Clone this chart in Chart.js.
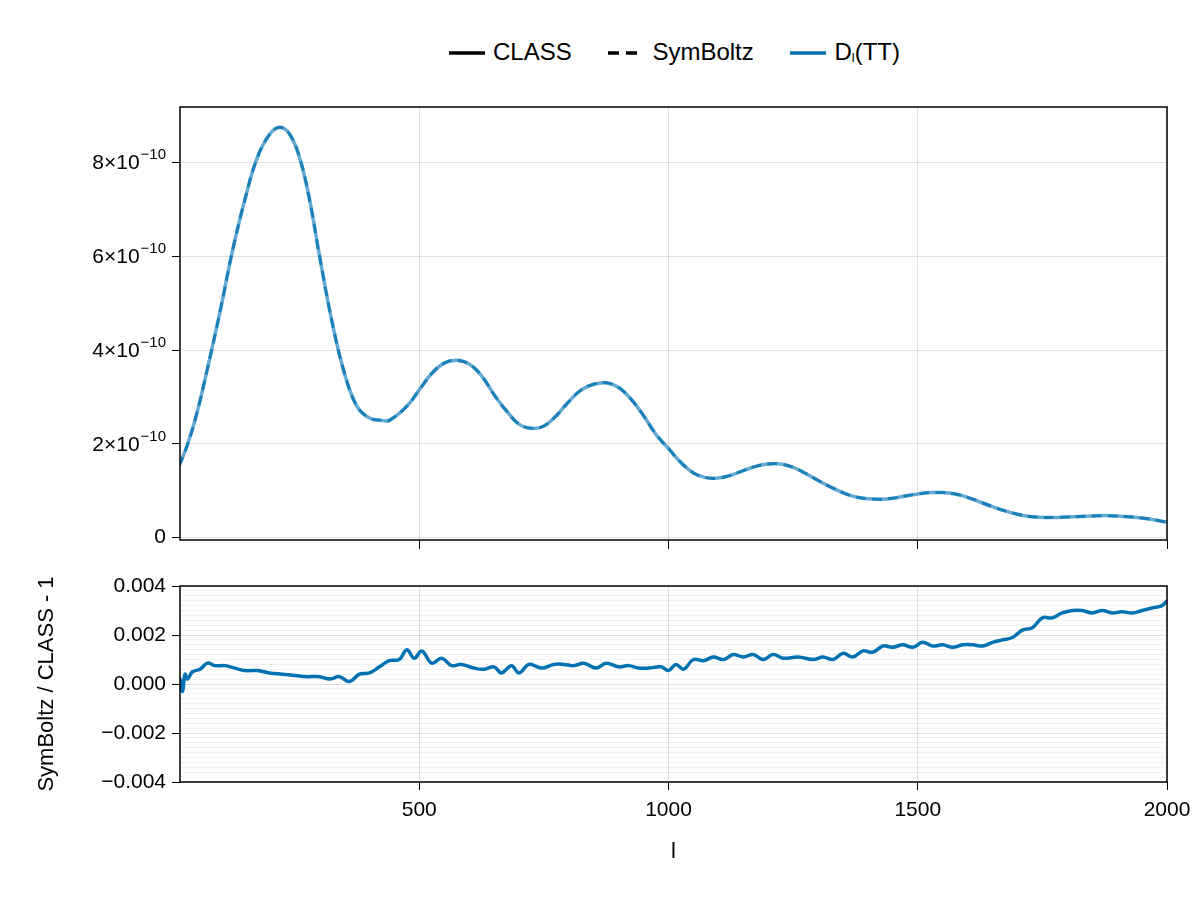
<!DOCTYPE html>
<html><head><meta charset="utf-8">
<script src="https://cdn.jsdelivr.net/npm/chart.js@4"></script>
<style>
body{margin:0;width:1200px;height:900px;background:#fff;font-family:"Liberation Sans",Arial,sans-serif;overflow:hidden}
#c1{position:absolute;left:0;top:0}
#c2{position:absolute;left:0;top:560px}
#leg{position:absolute;top:36px;left:180px;width:987px;text-align:center;font-size:24px;color:#000}
#leg span{display:inline-block;margin:0 14px;vertical-align:middle}
#leg svg{vertical-align:middle;margin-right:6px}
#leg sub{font-size:13px;vertical-align:-2px}
</style></head><body>
<div id="leg">
<span><svg width="40" height="10"><line x1="2" y1="5" x2="38" y2="5" stroke="#000" stroke-width="3.5"/></svg>CLASS</span>
<span><svg width="40" height="10"><line x1="2" y1="5" x2="38" y2="5" stroke="#000" stroke-width="3.5" stroke-dasharray="11,7"/></svg>SymBoltz</span>
<span><svg width="40" height="10"><line x1="2" y1="5" x2="38" y2="5" stroke="#0072B2" stroke-width="3.5"/></svg>D<sub>l</sub>(TT)</span>
</div>
<canvas id="c1" width="1200" height="560"></canvas>
<canvas id="c2" width="1200" height="340"></canvas>
<script>
const ell = [2,25,50,75,100,125,150,175,200,220,240,260,280,300,325,350,375,400,425,440,475,500,525,550,575,600,625,650,675,700,725,750,775,800,825,850,875,900,925,950,975,1000,1025,1050,1075,1100,1125,1150,1175,1200,1225,1250,1275,1300,1325,1350,1375,1400,1425,1450,1475,1500,1525,1550,1575,1600,1625,1650,1675,1700,1725,1750,1775,1800,1850,1875,1900,1950,2000];
const dlTT = [1.22,1.7,2.5,3.6,4.8,6.1,7.2,8.1,8.6,8.75,8.6,8.1,7.2,6.0,4.6,3.5,2.8,2.55,2.5,2.5,2.8,3.15,3.5,3.72,3.78,3.7,3.45,3.05,2.7,2.42,2.33,2.38,2.6,2.9,3.15,3.27,3.3,3.2,2.95,2.6,2.2,1.9,1.6,1.38,1.28,1.27,1.33,1.43,1.52,1.57,1.57,1.5,1.37,1.22,1.08,0.96,0.87,0.83,0.82,0.84,0.89,0.93,0.96,0.96,0.93,0.86,0.76,0.66,0.57,0.5,0.45,0.43,0.43,0.44,0.46,0.47,0.46,0.42,0.33].map(v=>v*1e-10);
const ellRes = [2,10,15,20,25,30,35,45,60,75,90,110,130,150,175,200,225,250,275,300,320,340,360,380,400,420,440,460,475,490,505,525,545,565,585,610,630,650,665,685,700,720,745,770,790,810,830,855,875,900,920,940,960,985,1000,1015,1030,1050,1070,1090,1110,1130,1150,1170,1190,1210,1230,1260,1290,1310,1330,1350,1370,1390,1410,1430,1450,1470,1490,1510,1530,1550,1570,1590,1610,1630,1650,1670,1690,1710,1730,1750,1770,1790,1810,1830,1850,1870,1890,1910,1930,1950,1970,1990,2000];
const resid = [0,0.1,-0.1,0.2,-0.3,0.4,0.2,0.5,0.6,0.85,0.75,0.75,0.65,0.55,0.55,0.45,0.4,0.35,0.3,0.3,0.2,0.3,0.1,0.4,0.45,0.7,0.95,1.0,1.4,1.05,1.35,0.85,1.05,0.75,0.8,0.65,0.6,0.7,0.45,0.75,0.45,0.8,0.65,0.8,0.8,0.75,0.85,0.65,0.85,0.7,0.75,0.65,0.65,0.7,0.55,0.8,0.6,1.0,0.95,1.1,1.0,1.2,1.1,1.2,1.0,1.2,1.05,1.1,1.0,1.1,1.0,1.25,1.1,1.35,1.3,1.55,1.5,1.6,1.5,1.7,1.55,1.6,1.5,1.6,1.6,1.55,1.7,1.8,1.9,2.2,2.3,2.7,2.7,2.9,3.0,3.0,2.9,3.0,2.9,2.95,2.9,3.0,3.1,3.2,3.4].map(v=>v*1e-3);
const xTicks = [500,1000,1500,2000];
const yTopMantissas = [0,2,4,6,8];

Chart.defaults.font.family = '"Liberation Sans", Arial, sans-serif';
Chart.defaults.color = '#000';
Chart.defaults.animation = false;

const frame = {id:'frame', afterDraw(c){const a=c.chartArea,x=c.ctx;x.save();x.strokeStyle='#000';x.lineWidth=1.5;x.strokeRect(a.left,a.top,a.right-a.left,a.bottom-a.top);x.restore();}};
const sciLabels = {id:'sci', afterDraw(c){
  const s=c.scales.y,x=c.ctx;x.save();x.fillStyle='#000';x.textBaseline='middle';
  yTopMantissas.forEach(m=>{
    const py=s.getPixelForValue(m*1e-10), right=s.right-14;
    if(m===0){x.font='21px "Liberation Sans"';x.textAlign='right';x.fillText('0',right,py);return;}
    x.font='15px "Liberation Sans"';x.textAlign='right';x.fillText('−10',right,py-7);
    const w=x.measureText('−10').width;
    x.font='21px "Liberation Sans"';x.fillText(m+'×10',right-w-1,py+1);
  });x.restore();}};
const grey = 'rgba(0,0,0,0.12)';

new Chart(document.getElementById('c1'), {
  type:'line',
  data:{datasets:[
    {data:ell.map((l,i)=>({x:l,y:dlTT[i]})),borderColor:'rgba(0,114,178,0.6)',borderWidth:3.5,pointRadius:0,tension:0.4},
    {data:ell.map((l,i)=>({x:l,y:dlTT[i]})),borderColor:'rgba(0,114,178,0.75)',borderWidth:3,borderDash:[10,6],pointRadius:0,tension:0.4}
  ]},
  options:{responsive:false,plugins:{legend:{display:false},tooltip:{enabled:false}},
    layout:{padding:{top:107,right:33,left:0,bottom:0}},
    scales:{
      x:{type:'linear',min:20,max:2000,afterBuildTicks(s){s.ticks=xTicks.map(v=>({value:v}));},
        ticks:{callback:()=>''},grid:{color:grey,tickColor:'#000',tickLength:9,lineWidth:1},border:{display:false},
        afterFit(s){s.height=20;}},
      y:{min:-0.05e-10,max:9.18e-10,afterBuildTicks(s){s.ticks=yTopMantissas.map(v=>({value:v*1e-10}));},
        ticks:{callback:()=>''},
        grid:{color:grey,tickColor:'#000',tickLength:8},border:{display:false},afterFit(s){s.width=180;}}
    }},
  plugins:[frame,sciLabels]
});

const yMinor=[];for(let i=-20;i<=20;i++)yMinor.push(i*0.0002);
new Chart(document.getElementById('c2'), {
  type:'line',
  data:{datasets:[{data:ellRes.map((l,i)=>({x:l,y:resid[i]})),borderColor:'#0072B2',borderWidth:3.5,pointRadius:0,tension:0.4}]},
  options:{responsive:false,plugins:{legend:{display:false},tooltip:{enabled:false}},
    layout:{padding:{top:26,right:33,left:34,bottom:35}},
    scales:{
      x:{type:'linear',min:20,max:2000,afterBuildTicks(s){s.ticks=xTicks.map(v=>({value:v}));},
        ticks:{font:{size:21},padding:8,callback:v=>String(v)},grid:{color:grey,tickColor:'#000',tickLength:8},border:{display:false},
        title:{display:true,text:'l',font:{size:22},padding:{top:4,bottom:0}},afterFit(s){s.height=83;}},
      y:{min:-0.004,max:0.004,afterBuildTicks(s){s.ticks=yMinor.map(v=>({value:v}));},
        ticks:{font:{size:21},padding:6,autoSkip:false,callback(v){const k=Math.round(v/0.0002);if(k%10!==0)return '';const t=Math.abs(v).toFixed(3);return v<-1e-9?'−'+t:t;}},
        grid:{color:c=>{const k=Math.round(c.tick.value/0.0002);return k%10===0?grey:'rgba(0,0,0,0.05)';},
              tickColor:c=>{const k=Math.round(c.tick.value/0.0002);return k%10===0?'#000':'rgba(0,0,0,0)';},tickLength:8},
        border:{display:false},title:{display:true,text:'SymBoltz / CLASS - 1',font:{size:22},padding:{bottom:2,top:0}},
        afterFit(s){s.width=146;}}
    }},
  plugins:[frame]
});
</script></body></html>
